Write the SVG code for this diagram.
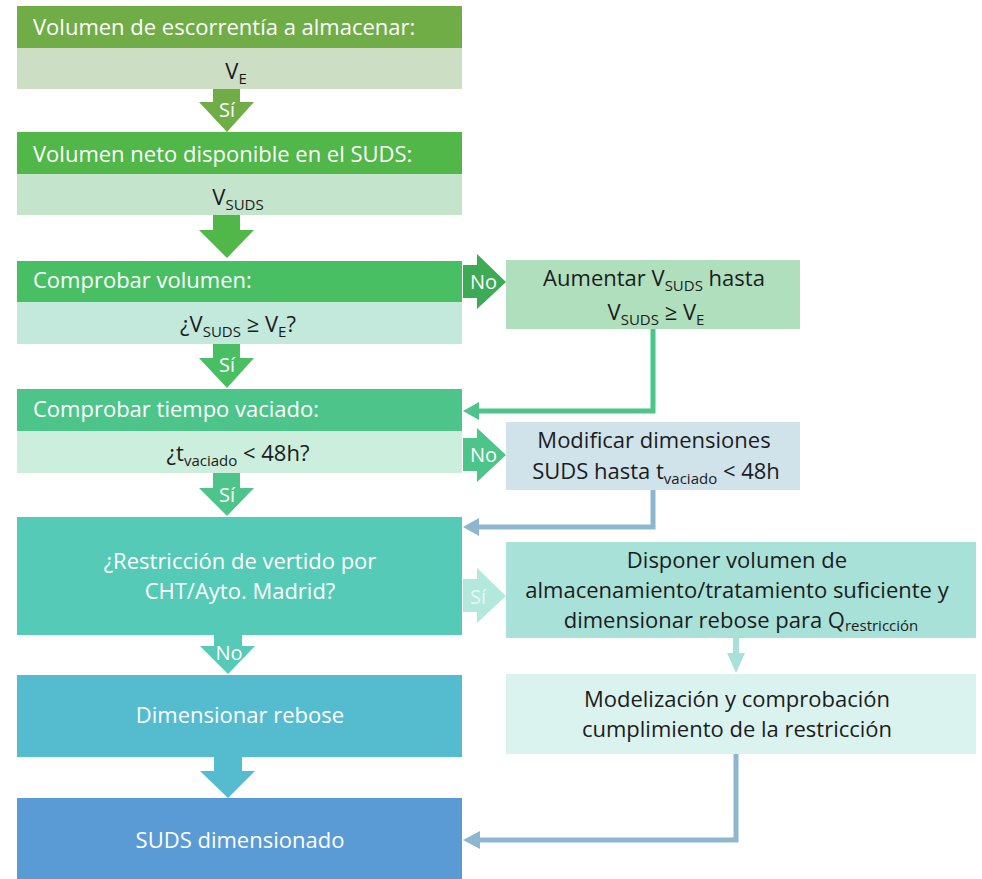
<svg xmlns="http://www.w3.org/2000/svg" width="982" height="879" viewBox="0 0 982 879">
<style>
text{font-family:"Open Sans","Liberation Sans",sans-serif;font-size:22px}
.w{fill:#ffffff}
.d{fill:#1c1c1c}
.c{text-anchor:middle}
.s{font-size:15px}
.lbl{font-size:20px}
</style>
<rect width="982" height="879" fill="#ffffff"/>
<g id="connectors">
  <polygon points="213,89 240,89 240,102 254,102 227,132 199,102 213,102" fill="#70AD47"/>
  <polygon points="213,215 240,215 240,230 254,230 227,258 199,230 213,230" fill="#50B748"/>
  <polygon points="213,344 240,344 240,358 254,358 227,388 199,358 213,358" fill="#48BF63"/>
  <polygon points="213,473 240,473 240,488 254,488 227,516 199,488 213,488" fill="#4DC58A"/>
  <polygon points="214,635 242,635 242,646 255,646 228,674 200,646 214,646" fill="#55CAB6"/>
  <polygon points="214,757 242,757 242,771 255,771 228,798 200,771 214,771" fill="#55BCCF"/>
  <polygon points="463,265 477,265 477,254 506,282 477,309 477,298 463,298" fill="#3DAA55"/>
  <polygon points="463,438 477,438 477,428 506,455 477,482 477,471 463,471" fill="#4DC58A"/>
  <polygon points="463,579 477,579 477,568 506,596 477,623 477,612 463,612" fill="#B3E8DD"/>
  <polyline points="653,329 653,411 475,411" fill="none" stroke="#4DC58A" stroke-width="5"/>
  <polygon points="463,411 479,402 479,420" fill="#4DC58A"/>
  <polyline points="653,490 653,527 475,527" fill="none" stroke="#8DB6CF" stroke-width="5"/>
  <polygon points="463,527 479,518 479,536" fill="#8DB6CF"/>
  <polygon points="733,638 739,638 739,653 745,653 736,673 727,653 733,653" fill="#A8E1D8"/>
  <polyline points="736,754 736,840 475,840" fill="none" stroke="#8DB6CF" stroke-width="5"/>
  <polygon points="463,840 480,831 480,849" fill="#8DB6CF"/>
  <text class="w lbl c" x="227" y="117">Sí</text>
  <text class="w lbl c" x="227" y="372">Sí</text>
  <text class="w lbl c" x="227" y="502">Sí</text>
  <text class="w lbl c" x="229" y="660">No</text>
  <text class="w lbl" x="470" y="289">No</text>
  <text class="w lbl" x="470" y="462">No</text>
  <text class="lbl" x="470" y="604" fill="#E8F7F4">Sí</text>
</g>
<g id="n1">
  <rect x="17" y="6" width="445" height="42" fill="#70AD47"/>
  <rect x="17" y="48" width="445" height="41" fill="#CCDEC4"/>
  <text class="w" x="33" y="35">Volumen de escorrentía a almacenar:</text>
  <text class="d c" x="236" y="79">V<tspan class="s" dy="5">E</tspan></text>
</g>
<g id="n2">
  <rect x="17" y="132" width="445" height="42" fill="#50B748"/>
  <rect x="17" y="174" width="445" height="41" fill="#C4E4CB"/>
  <text class="w" x="33" y="162">Volumen neto disponible en el SUDS:</text>
  <text class="d c" x="238" y="205">V<tspan class="s" dy="5">SUDS</tspan></text>
</g>
<g id="n3">
  <rect x="17" y="261" width="445" height="41" fill="#48BF63"/>
  <rect x="17" y="302" width="445" height="42" fill="#C2E9DC"/>
  <text class="w" x="33" y="288">Comprobar volumen:</text>
  <text class="d c" x="238" y="332">¿V<tspan class="s" dy="5">SUDS</tspan><tspan dy="-5"> ≥ V</tspan><tspan class="s" dy="5">E</tspan><tspan dy="-5">?</tspan></text>
</g>
<g id="n4">
  <rect x="17" y="389" width="445" height="42" fill="#4DC58A"/>
  <rect x="17" y="431" width="445" height="42" fill="#CCEEDD"/>
  <text class="w" x="33" y="417">Comprobar tiempo vaciado:</text>
  <text class="d c" x="238" y="461">¿t<tspan class="s" dy="5">vaciado</tspan><tspan dy="-5"> &lt; 48h?</tspan></text>
</g>
<g id="n5">
  <rect x="17" y="517" width="445" height="118" fill="#55CAB6"/>
  <text class="w c" x="240" y="569">¿Restricción de vertido por</text>
  <text class="w c" x="240" y="599">CHT/Ayto. Madrid?</text>
</g>
<g id="n6">
  <rect x="17" y="675" width="445" height="82" fill="#55BCCF"/>
  <text class="w c" x="240" y="723">Dimensionar rebose</text>
</g>
<g id="n7">
  <rect x="17" y="798" width="445" height="81" fill="#5B9BD5"/>
  <text class="w c" x="240" y="848">SUDS dimensionado</text>
</g>
<g id="r1">
  <rect x="506" y="260" width="294" height="69" fill="#B0DFBE"/>
  <text class="d c" x="654" y="286">Aumentar V<tspan class="s" dy="5">SUDS</tspan><tspan dy="-5">  hasta</tspan></text>
  <text class="d c" x="656" y="320">V<tspan class="s" dy="5">SUDS</tspan><tspan dy="-5"> ≥ V</tspan><tspan class="s" dy="5">E</tspan></text>
</g>
<g id="r2">
  <rect x="506" y="422" width="294" height="68" fill="#D0E3EB"/>
  <text class="d c" x="654" y="448">Modificar dimensiones</text>
  <text class="d c" x="656" y="479">SUDS hasta t<tspan class="s" dy="5">vaciado</tspan><tspan dy="-5"> &lt; 48h</tspan></text>
</g>
<g id="r3">
  <rect x="506" y="542" width="470" height="96" fill="#A8E1D8"/>
  <text class="d c" x="737" y="568">Disponer volumen de</text>
  <text class="d c" x="737" y="598">almacenamiento/tratamiento suficiente y</text>
  <text class="d c" x="741" y="628">dimensionar rebose para Q<tspan class="s" dy="3">restricción</tspan></text>
</g>
<g id="r4">
  <rect x="506" y="674" width="470" height="80" fill="#DBF3EF"/>
  <text class="d c" x="737" y="707">Modelización y comprobación</text>
  <text class="d c" x="737" y="737">cumplimiento de la restricción</text>
</g>
</svg>
